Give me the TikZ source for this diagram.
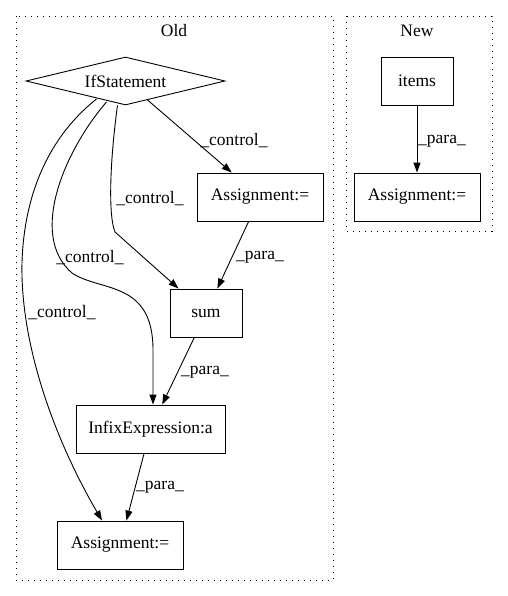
\documentclass[tikz,border=0pt]{standalone}
\usepackage{fontspec}
\setmainfont{Liberation Serif}
\usetikzlibrary{shapes.geometric,arrows.meta}
\begin{document}
\begin{tikzpicture}[x=1pt,y=-1pt,
  every node/.style={font=\fontsize{17.5}{20}\selectfont},
  box/.style={draw, line width=0.9pt, rectangle, minimum height=48pt, inner sep=0pt},
  cond/.style={draw, line width=0.9pt, diamond, aspect=4.15, minimum width=199pt, minimum height=48pt, inner sep=0pt},
  cluster/.style={draw, line width=0.9pt, dash pattern=on 1.2pt off 4.8pt},
  edge/.style={draw, line width=0.9pt, -{Triangle[length=10pt,width=7pt]}},
  lab/.style={inner sep=0pt}
]
\useasboundingbox (0,0) rectangle (507,596);
% clusters
\draw[cluster] (16,16) rectangle (333,580);
\draw[cluster] (346,16) rectangle (492,231);
\node[lab] (old) at (174,31) {Old};
\node[lab] (new) at (417,31) {New};
% nodes
\node[cond] (if) at (125.5,81) {IfStatement};
\node[box, minimum width=126pt] (at) at (260,197) {Assignment:=};
\node[box, minimum width=72pt] (sum) at (206,313) {sum};
\node[box, minimum width=149pt] (infix) at (150.5,429) {InfixExpression:a};
\node[box, minimum width=126pt] (ab) at (120,545) {Assignment:=};
\node[box, minimum width=72pt] (items) at (417,81) {items};
\node[box, minimum width=126pt] (an) at (417,197) {Assignment:=};
% bend points
\coordinate (b2) at (115,232);
\coordinate (b3) at (72,273);
\coordinate (b4) at (22,262);
% edges
\draw[edge] (if) -- (at);
\draw[edge] (if.south) ++(-8,0) .. controls (110,160) and (108,215) .. (b2) -- (sum);
\draw[edge] (if) ++(-19,21) .. controls (65,150) and (28,235) .. (b3) .. controls (100,292) and (153,280) .. (153,350) -- ([xshift=2.5pt]infix.north);
\draw[edge] (if) ++(-29,18) .. controls (45,140) and (24,200) .. (b4) .. controls (20,345) and (55,440) .. ([xshift=-18pt]ab.north);
\draw[edge] (at) -- (sum);
\draw[edge] (sum) -- (infix);
\draw[edge] (infix) -- (ab);
\draw[edge] (items) -- (an);
% labels
\node[lab] (l1) at (234,141) {\_control\_};
\node[lab] (l2) at (150,199) {\_control\_};
\node[lab] (l3) at (90,258) {\_control\_};
\node[lab] (l4) at (62,313) {\_control\_};
\node[lab] (l5) at (260,257) {\_para\_};
\node[lab] (l6) at (205,372) {\_para\_};
\node[lab] (l7) at (160,487) {\_para\_};
\node[lab] (l8) at (442,141) {\_para\_};
\end{tikzpicture}
\end{document}
